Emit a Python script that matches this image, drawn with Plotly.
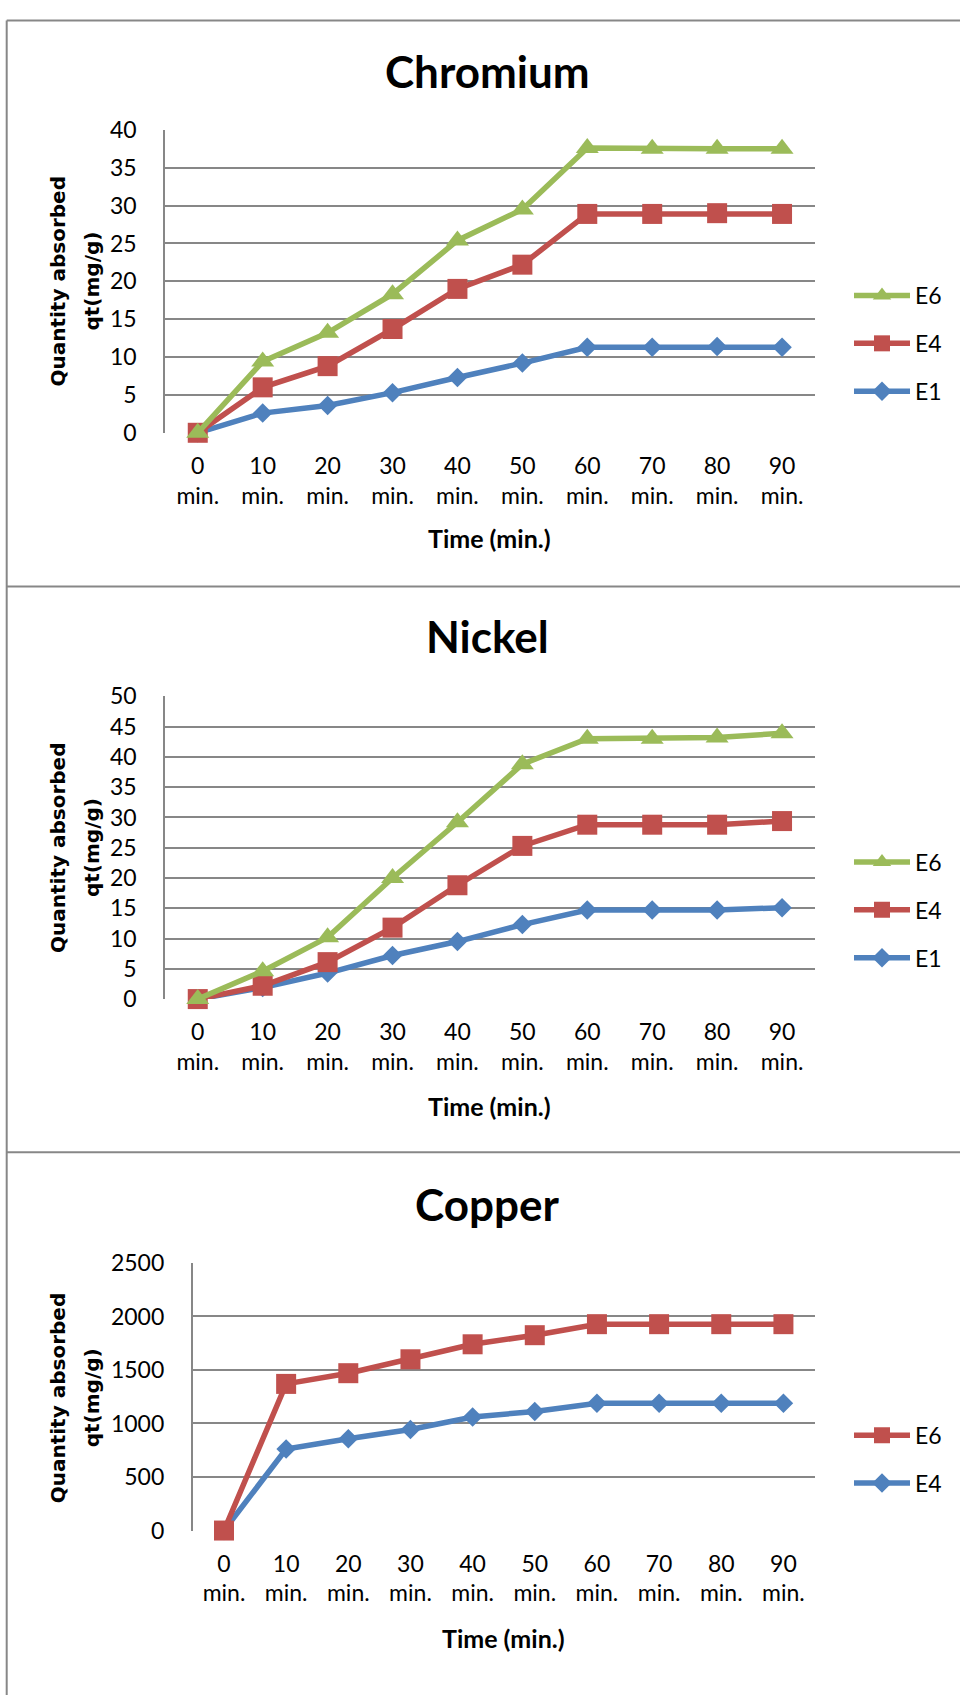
import plotly.graph_objects as go

W, H = 960, 1695

# Sampling times and their category labels
times = [0, 10, 20, 30, 40, 50, 60, 70, 80, 90]
time_labels = [f"{t}<br>min." for t in times]

# Chromium uptake, qt (mg/g)
cr_e6 = [0, 9.4, 13.2, 18.3, 25.4, 29.5, 37.6, 37.5, 37.5, 37.5]
cr_e4 = [0, 6.0, 8.8, 13.7, 19.0, 22.2, 28.9, 28.9, 29.0, 28.9]
cr_e1 = [0, 2.6, 3.6, 5.3, 7.3, 9.2, 11.3, 11.3, 11.4, 11.3]

# Nickel uptake, qt (mg/g)
ni_e6 = [0, 4.6, 10.2, 20.0, 29.2, 38.8, 43.0, 43.0, 43.2, 43.9]
ni_e4 = [0, 2.2, 6.1, 11.8, 18.8, 25.3, 28.8, 28.8, 28.8, 29.4]
ni_e1 = [0, 1.9, 4.3, 7.2, 9.5, 12.3, 14.7, 14.7, 14.7, 15.1]

# Copper uptake, qt (mg/g)
cu_e6 = [0, 1370, 1470, 1600, 1740, 1825, 1928, 1928, 1928, 1928]
cu_e4 = [0, 762, 857, 944, 1060, 1113, 1190, 1190, 1190, 1190]

BLUE, RED, GREEN = "#4F81BD", "#C0504D", "#9BBB59"
GRID = "#878787"
FONT = "Lato"


def px(x):
    return x / W


def py(y):
    return 1 - y / H


# Panel geometry in pixels: plot area left/right/top/bottom, legend centre, etc.
panels = [
    dict(title="Chromium", ax="", left=165.3, right=814.5, top=116.8, bottom=424.8,
         ymax=40, dtick=5, legend="legend", legend_mid=334.0, title_y=56.5,
         xtitle_y=532.0, ytitle_y=271.0, frame_top=5.7,
         series=[("E1", cr_e1, BLUE, "diamond"), ("E4", cr_e4, RED, "square"),
                 ("E6", cr_e6, GREEN, "triangle-up")]),
    dict(title="Nickel", ax="2", left=165.3, right=814.5, top=692.8, bottom=1000.6,
         ymax=50, dtick=5, legend="legend2", legend_mid=910.0, title_y=631.8,
         xtitle_y=1109.0, ytitle_y=847.0, frame_top=581.2,
         series=[("E1", ni_e1, BLUE, "diamond"), ("E4", ni_e4, RED, "square"),
                 ("E6", ni_e6, GREEN, "triangle-up")]),
    dict(title="Copper", ax="3", left=192.9, right=814.5, top=1268.9, bottom=1541.0,
         ymax=2500, dtick=500, legend="legend3", legend_mid=1468.5, title_y=1208.5,
         xtitle_y=1650.5, ytitle_y=1406.5, frame_top=1156.3,
         series=[("E4", cu_e4, BLUE, "diamond"), ("E6", cu_e6, RED, "square")]),
]

marker_size = {"diamond": 15, "square": 20, "triangle-up": 20}

fig = go.Figure()
annotations = []
shapes = []
layout = {}

for p in panels:
    xa, ya = "x" + p["ax"], "y" + p["ax"]
    n = len(p["series"])
    for i, (name, vals, color, sym) in enumerate(p["series"]):
        fig.add_trace(go.Scatter(
            x=times, y=vals, name=name, mode="lines+markers",
            xaxis=xa, yaxis=ya, legend=p["legend"],
            legendgroup=p["legend"] + name, legendrank=n - i,
            line=dict(color=color, width=5.5),
            marker=dict(symbol=sym, size=marker_size[sym], color=color,
                        line=dict(width=0)),
            cliponaxis=False, hoverinfo="x+y+name",
        ))

    layout["xaxis" + p["ax"]] = dict(
        domain=[px(p["left"]), px(p["right"])], anchor=ya,
        range=[-5, 95], tickmode="array", tickvals=times, ticktext=time_labels,
        showgrid=False, zeroline=False, showline=False, ticks="",
        tickfont=dict(family=FONT, size=23, color="#000000"),
        ticklabelstandoff=17, fixedrange=True,
    )
    layout["yaxis" + p["ax"]] = dict(
        domain=[py(p["bottom"]), py(p["top"])], anchor=xa,
        range=[0, p["ymax"]], dtick=p["dtick"], tick0=0,
        showgrid=True, gridcolor=GRID, gridwidth=1.6,
        zeroline=False, showline=True, linecolor=GRID, linewidth=2,
        ticks="", tickfont=dict(family=FONT, size=23, color="#000000"),
        ticklabelstandoff=22, fixedrange=True,
    )
    layout[p["legend"]] = dict(
        x=px(849), xanchor="left", y=py(p["legend_mid"]), yanchor="middle",
        traceorder="grouped", tracegroupgap=15,
        font=dict(family=FONT, size=23, color="#000000"),
        bgcolor="rgba(0,0,0,0)", borderwidth=0, itemwidth=56,
        itemclick=False, itemdoubleclick=False,
    )

    # chart title
    annotations.append(dict(
        text=f"<b>{p['title']}</b>", x=px(487), y=py(p["title_y"]),
        xref="paper", yref="paper", xanchor="center", yanchor="middle",
        showarrow=False, font=dict(family=FONT, size=44, color="#000000"),
    ))
    # x-axis title
    annotations.append(dict(
        text="<b>Time (min.)</b>", x=px((p["left"] + p["right"]) / 2),
        y=py(p["xtitle_y"]), xref="paper", yref="paper",
        xanchor="center", yanchor="middle", showarrow=False,
        font=dict(family=FONT, size=25, color="#000000"),
    ))
    # two-line y-axis title
    for txt, xc in (("Quantity absorbed", 58), ("qt(mg/g)", 92)):
        annotations.append(dict(
            text=f"<b>{txt}</b>", x=px(xc), y=py(p["ytitle_y"]),
            xref="paper", yref="paper", xanchor="center", yanchor="middle",
            textangle=-90, showarrow=False,
            font=dict(family="DejaVu Sans", size=20, color="#000000"),
        ))
    # chart frame: top edge of each panel
    shapes.append(dict(type="line", xref="paper", yref="paper",
                       x0=px(6.7), x1=1.01, y0=py(p["frame_top"]), y1=py(p["frame_top"]),
                       line=dict(color=GRID, width=2)))

# left edge of the frame
shapes.append(dict(type="line", xref="paper", yref="paper",
                   x0=px(6.7), x1=px(6.7), y0=py(5.7), y1=-0.01,
                   line=dict(color=GRID, width=2)))

fig.update_layout(
    width=W, height=H, margin=dict(l=0, r=0, t=0, b=0),
    paper_bgcolor="white", plot_bgcolor="white",
    annotations=annotations, shapes=shapes, **layout,
)

fig.write_html("out.html")
